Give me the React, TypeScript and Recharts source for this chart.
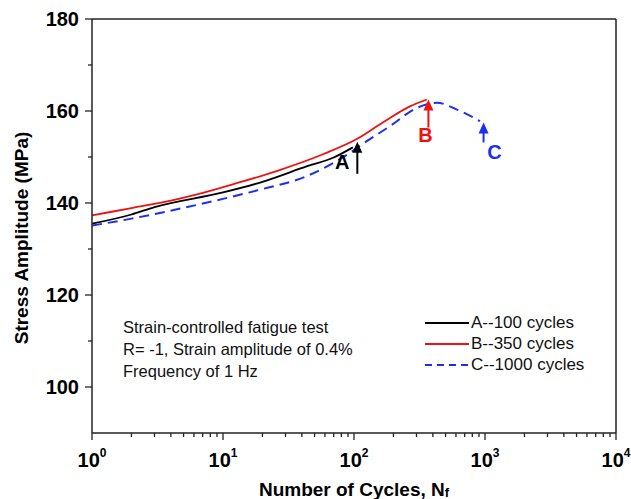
import { LineChart, Line, XAxis, YAxis, ReferenceLine, ReferenceDot } from 'recharts'

// cycles (log x) and stress amplitude (MPa)
const cyclesA = [1, 2, 3, 10, 20, 44, 70, 98]
const stressA = [135.5, 137.5, 139.1, 142.3, 144.6, 148.0, 149.9, 152.1]

const cyclesB = [1, 2, 4, 6, 12, 26, 58, 105, 166, 267, 360]
const stressB = [137.3, 138.9, 140.5, 141.7, 144.1, 147.0, 150.6, 153.9, 157.5, 161.0, 162.5]

const cyclesC = [1, 2, 3, 10, 18, 44, 82, 126, 188, 303, 430, 611, 916]
const stressC = [135.1, 136.6, 137.6, 140.9, 142.7, 145.9, 149.9, 153.5, 156.7, 160.7, 161.8, 160.3, 157.8]

// arrows marking where each test was stopped
const arrowLabels = ['A', 'B', 'C']
const arrowCycles = [106, 370, 975]
const arrowTips = [153.3, 162.5, 157.5]

const decades = [1, 10, 100, 1000, 10000]
const minorSteps = [2, 3, 4, 5, 6, 7, 8, 9]
const yTicks = [100, 110, 120, 130, 140, 150, 160, 170, 180]

const seriesNames = ['A--100 cycles', 'B--350 cycles', 'C--1000 cycles']

const notes = ['Strain-controlled fatigue test', 'R= -1, Strain amplitude of 0.4%', 'Frequency of 1 Hz']

const FONT = '"Liberation Sans", Arial, sans-serif'
const AXIS = '#222'

const zip = (xs: number[], ys: number[]) => xs.map((n, i) => ({ n, s: ys[i] }))
const dataA = zip(cyclesA, stressA)
const dataB = zip(cyclesB, stressB)
const dataC = zip(cyclesC, stressC)

const xTicks = decades.concat(
  decades.slice(0, -1).flatMap((d) => minorSteps.map((m) => d * m))
).sort((a, b) => a - b)

const styles = [
  { color: '#000000', dash: undefined, width: 1.8 },
  { color: '#ee1111', dash: undefined, width: 1.8 },
  { color: '#1a2ff0', dash: '10 6', width: 2 },
]

// label offsets relative to arrow tip, arrow length in px
const arrowLayout = [
  { len: 32, lx: -15, ly: 27 },
  { len: 28, lx: -3, ly: 42 },
  { len: 20, lx: 11, ly: 36 },
]

function XTick({ x, y, payload }: any) {
  const v = payload.value
  const lg = Math.log10(v)
  const exp = Math.round(lg)
  const major = Math.abs(lg - exp) < 1e-9
  return (
    <g>
      <line x1={x} x2={x} y1={y} y2={y + (major ? 7 : 4)} stroke={AXIS} strokeWidth={1.3} />
      {major && (
        <text x={x} y={y + 34} textAnchor="middle" fontFamily={FONT} fontWeight="bold" fontSize={20} fill="#000">
          10<tspan dy={-10} fontSize={12}>{exp}</tspan>
        </text>
      )}
    </g>
  )
}

function YTick({ x, y, payload }: any) {
  const v = payload.value
  const major = v % 20 === 0
  return (
    <g>
      <line x1={x} x2={x - (major ? 7 : 4)} y1={y} y2={y} stroke={AXIS} strokeWidth={1.3} />
      {major && (
        <text x={x - 13} y={y + 7} textAnchor="end" fontFamily={FONT} fontWeight="bold" fontSize={20} fill="#000">
          {v}
        </text>
      )}
    </g>
  )
}

function XTitle({ viewBox }: any) {
  const cx = viewBox.x + viewBox.width / 2
  return (
    <text x={cx} y={viewBox.y + 63} textAnchor="middle" fontFamily={FONT} fontWeight="bold" fontSize={19} fill="#000">
      Number of Cycles, N<tspan fontSize={13} dy={1}>f</tspan>
    </text>
  )
}

function YTitle({ viewBox }: any) {
  const cy = viewBox.y + viewBox.height / 2 + 12
  const cx = 28
  return (
    <text x={cx} y={cy} transform={`rotate(-90 ${cx} ${cy})`} textAnchor="middle" fontFamily={FONT} fontWeight="bold" fontSize={19} fill="#000">
      Stress Amplitude (MPa)
    </text>
  )
}

function arrowShape(i: number) {
  return ({ cx, cy }: any) => {
    const { len, lx, ly } = arrowLayout[i]
    const c = styles[i].color
    return (
      <g>
        <line x1={cx} x2={cx} y1={cy + 8} y2={cy + len} stroke={c} strokeWidth={2} />
        <polygon points={`${cx},${cy} ${cx - 5},${cy + 11} ${cx + 5},${cy + 11}`} fill={c} />
        <text x={cx + lx} y={cy + ly} textAnchor="middle" fontFamily={FONT} fontWeight="bold" fontSize={20} fill={c}>
          {arrowLabels[i]}
        </text>
      </g>
    )
  }
}

export default function App() {
  const datasets = [dataA, dataB, dataC]
  return (
    <div style={{ position: 'absolute', left: 0, top: 0, width: 631, height: 499, background: '#fff' }}>
      <LineChart width={631} height={499} margin={{ top: 19, right: 15, left: 0, bottom: 0 }}>
        <XAxis
          dataKey="n"
          type="number"
          scale="log"
          domain={[1, 10000]}
          ticks={xTicks}
          interval={0}
          allowDataOverflow
          height={66}
          tickSize={0}
          tickMargin={0}
          tick={<XTick />}
          stroke={AXIS}
          strokeWidth={1.5}
          label={<XTitle />}
        />
        <YAxis
          dataKey="s"
          type="number"
          domain={[90, 180]}
          ticks={yTicks}
          interval={0}
          width={92}
          tickSize={0}
          tickMargin={0}
          tick={<YTick />}
          stroke={AXIS}
          strokeWidth={1.5}
          label={<YTitle />}
        />
        <ReferenceLine y={180} stroke={AXIS} strokeWidth={1.5} />
        <ReferenceLine x={10000} stroke={AXIS} strokeWidth={1.5} />
        {datasets.map((d, i) => (
          <Line
            key={seriesNames[i]}
            data={d}
            dataKey="s"
            name={seriesNames[i]}
            type="monotone"
            stroke={styles[i].color}
            strokeWidth={styles[i].width}
            strokeDasharray={styles[i].dash}
            dot={false}
            isAnimationActive={false}
          />
        ))}
        {arrowCycles.map((n, i) => (
          <ReferenceDot key={arrowLabels[i]} x={n} y={arrowTips[i]} r={0} shape={arrowShape(i)} />
        ))}
      </LineChart>

      {/* test conditions */}
      <div style={{ position: 'absolute', left: 123, top: 316, fontFamily: FONT, fontSize: 16.5, lineHeight: '22px', color: '#111' }}>
        {notes.map((t) => (
          <div key={t}>{t}</div>
        ))}
      </div>

      {/* legend */}
      <div style={{ position: 'absolute', left: 425, top: 312, fontFamily: FONT, fontSize: 17, lineHeight: '21px', color: '#111' }}>
        {seriesNames.map((name, i) => (
          <div key={name} style={{ display: 'flex', alignItems: 'center' }}>
            <svg width={44} height={10} style={{ marginRight: 2 }}>
              <line x1={0} x2={44} y1={5} y2={5} stroke={styles[i].color} strokeWidth={2} strokeDasharray={styles[i].dash ? '7 5' : undefined} />
            </svg>
            <span>{name}</span>
          </div>
        ))}
      </div>
    </div>
  )
}
